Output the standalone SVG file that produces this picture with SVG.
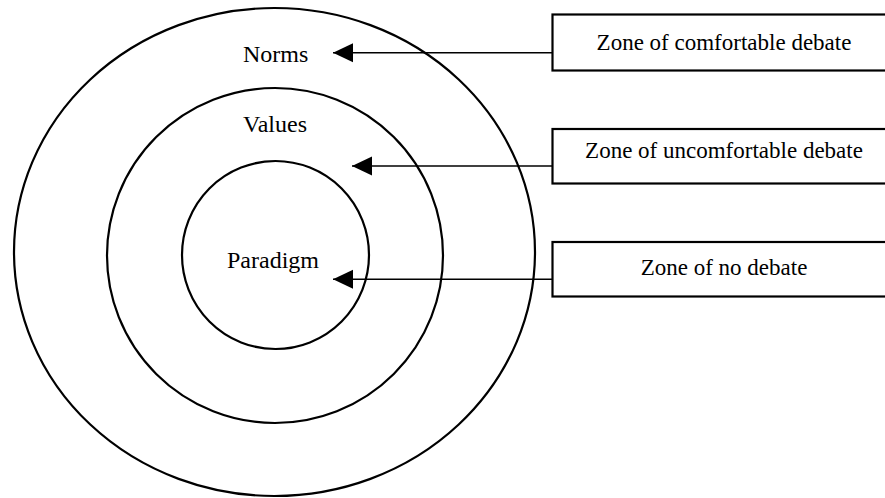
<svg xmlns="http://www.w3.org/2000/svg" width="885" height="498" viewBox="0 0 885 498">
  <style>
    .ring { fill: none; stroke: #000; stroke-width: 2.2; }
    .box { fill: #fff; stroke: #000; stroke-width: 2.2; }
    .link { fill: none; stroke: #000; stroke-width: 1.6; }
    .label { font-family: "Liberation Serif", "Times New Roman", serif; font-size: 24px; fill: #000; }
    .boxtext { font-family: "Liberation Serif", "Times New Roman", serif; font-size: 23px; fill: #000; text-anchor: middle; }
  </style>
  <defs>
    <!-- solid triangular head; the tip sits on the line end -->
    <marker id="head" viewBox="0 0 20 20" refX="20" refY="10" markerWidth="20" markerHeight="20" markerUnits="userSpaceOnUse" orient="auto">
      <polygon points="20,10 0,0.5 0,19.5" fill="#000"/>
    </marker>
  </defs>
  <rect width="885" height="498" fill="#fff"/>

  <!-- concentric zones -->
  <g id="norms">
    <ellipse class="ring" cx="274.5" cy="252" rx="260.5" ry="244"/>
    <text class="label" x="243" y="62">Norms</text>
  </g>
  <g id="values">
    <ellipse class="ring" cx="275" cy="255.5" rx="168" ry="167.5"/>
    <text class="label" x="243" y="132">Values</text>
  </g>
  <g id="paradigm">
    <ellipse class="ring" cx="275.5" cy="255" rx="93.5" ry="94"/>
    <text class="label" x="227" y="268">Paradigm</text>
  </g>

  <!-- zone descriptions -->
  <g id="zone-comfortable">
    <rect class="box" x="552.5" y="14.5" width="340" height="56"/>
    <text class="boxtext" x="724" y="49.5">Zone of comfortable debate</text>
  </g>
  <g id="zone-uncomfortable">
    <rect class="box" x="552.5" y="129" width="340" height="54.5"/>
    <text class="boxtext" x="724" y="158">Zone of uncomfortable debate</text>
  </g>
  <g id="zone-none">
    <rect class="box" x="552.5" y="242" width="340" height="54.5"/>
    <text class="boxtext" x="724" y="275">Zone of no debate</text>
  </g>

  <!-- connectors -->
  <g id="connectors">
    <line class="link" x1="552" y1="52.7" x2="333" y2="52.7" marker-end="url(#head)"/>
    <line class="link" x1="552" y1="166" x2="352" y2="166" marker-end="url(#head)"/>
    <line class="link" x1="552" y1="279.3" x2="333" y2="279.3" marker-end="url(#head)"/>
  </g>
</svg>
